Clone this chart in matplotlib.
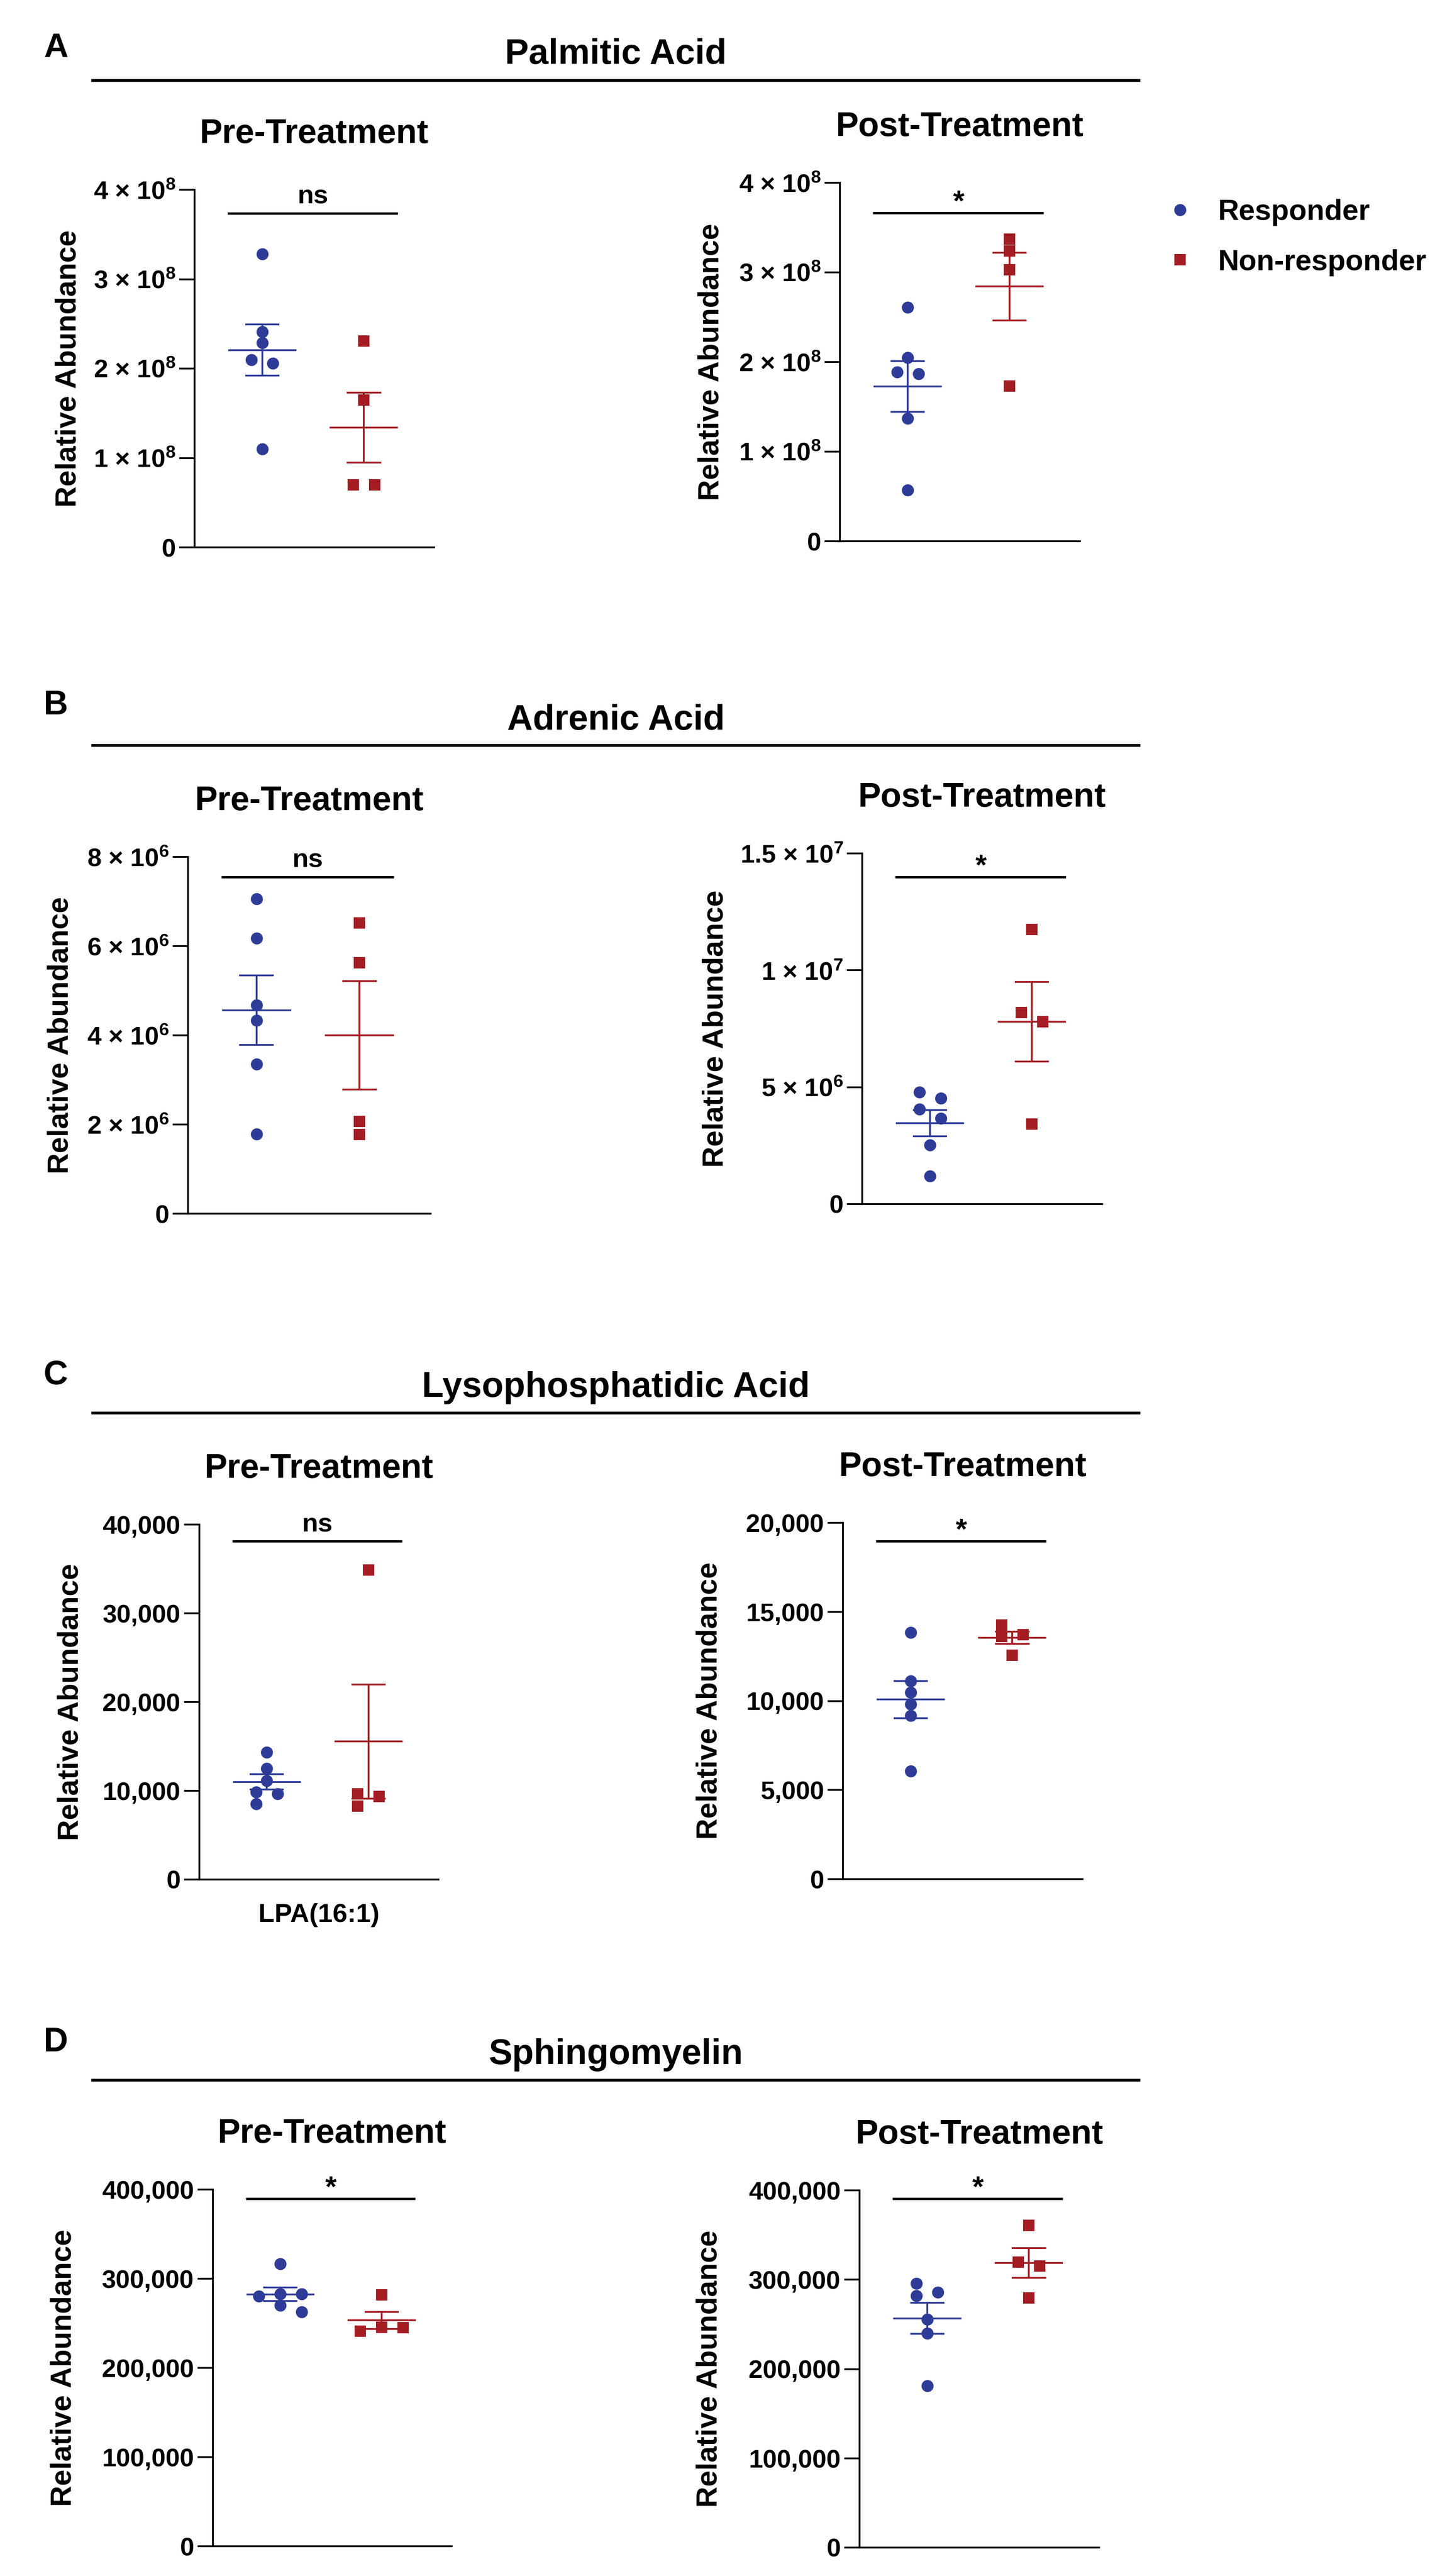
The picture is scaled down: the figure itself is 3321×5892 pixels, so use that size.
import numpy as np
import matplotlib
matplotlib.use("Agg")
import matplotlib.pyplot as plt
from matplotlib.lines import Line2D
from matplotlib.transforms import blended_transform_factory

plt.rcParams['font.family'] = ['Liberation Sans', 'DejaVu Sans']
plt.rcParams['font.weight'] = 'bold'
plt.rcParams['mathtext.fontset'] = 'custom'
plt.rcParams['mathtext.rm'] = 'Liberation Sans:bold'
plt.rcParams['mathtext.bf'] = 'Liberation Sans:bold'
plt.rcParams['mathtext.default'] = 'rm'

# ------------------------------------------------------------------ data
compounds = ["Palmitic Acid", "Adrenic Acid", "Lysophosphatidic Acid", "Sphingomyelin"]
panel_letters = ["A", "B", "C", "D"]
timepoints = ["Pre-Treatment", "Post-Treatment"]
groups = ["Responder", "Non-responder"]

palmitic_pre_resp = [3.28e8, 2.41e8, 2.29e8, 2.10e8, 2.06e8, 1.10e8]
palmitic_pre_nonresp = [2.31e8, 1.65e8, 0.70e8, 0.70e8]
palmitic_post_resp = [2.61e8, 2.05e8, 1.89e8, 1.87e8, 1.37e8, 0.57e8]
palmitic_post_nonresp = [3.37e8, 3.24e8, 3.03e8, 1.73e8]

adrenic_pre_resp = [7.06e6, 6.18e6, 4.68e6, 4.33e6, 3.35e6, 1.78e6]
adrenic_pre_nonresp = [6.52e6, 5.63e6, 2.07e6, 1.77e6]
adrenic_post_resp = [4.78e6, 4.53e6, 4.05e6, 3.67e6, 2.53e6, 1.19e6]
adrenic_post_nonresp = [11.75e6, 8.20e6, 7.80e6, 3.43e6]

lpa_pre_resp = [14320, 12500, 11140, 9870, 9660, 8520]
lpa_pre_nonresp = [34870, 9660, 9360, 8300]
lpa_post_resp = [13850, 11110, 10480, 9820, 9170, 6060]
lpa_post_nonresp = [14250, 13730, 13620, 12570]

sm_pre_resp = [316600, 282600, 282600, 280500, 270000, 262900]
sm_pre_nonresp = [281800, 245700, 244900, 241000]
sm_post_resp = [295600, 286000, 281800, 255800, 239800, 181100]
sm_post_nonresp = [360600, 319500, 315300, 279700]

significance = [["ns", "*"], ["ns", "*"], ["ns", "*"], ["*", "*"]]

palmitic_ticks = [0, 1e8, 2e8, 3e8, 4e8]
palmitic_ticklabels = ["0", r"1 × 10$^{8}$", r"2 × 10$^{8}$", r"3 × 10$^{8}$", r"4 × 10$^{8}$"]
adrenic_pre_ticks = [0, 2e6, 4e6, 6e6, 8e6]
adrenic_pre_ticklabels = ["0", r"2 × 10$^{6}$", r"4 × 10$^{6}$", r"6 × 10$^{6}$", r"8 × 10$^{6}$"]
adrenic_post_ticks = [0, 5e6, 1e7, 1.5e7]
adrenic_post_ticklabels = ["0", r"5 × 10$^{6}$", r"1 × 10$^{7}$", r"1.5 × 10$^{7}$"]
lpa_pre_ticks = [0, 10000, 20000, 30000, 40000]
lpa_pre_ticklabels = ["0", "10,000", "20,000", "30,000", "40,000"]
lpa_post_ticks = [0, 5000, 10000, 15000, 20000]
lpa_post_ticklabels = ["0", "5,000", "10,000", "15,000", "20,000"]
sm_ticks = [0, 100000, 200000, 300000, 400000]
sm_ticklabels = ["0", "100,000", "200,000", "300,000", "400,000"]

lpa_category = "LPA(16:1)"
y_label = "Relative Abundance"

panel_data = [
    [(palmitic_pre_resp, palmitic_pre_nonresp), (palmitic_post_resp, palmitic_post_nonresp)],
    [(adrenic_pre_resp, adrenic_pre_nonresp), (adrenic_post_resp, adrenic_post_nonresp)],
    [(lpa_pre_resp, lpa_pre_nonresp), (lpa_post_resp, lpa_post_nonresp)],
    [(sm_pre_resp, sm_pre_nonresp), (sm_post_resp, sm_post_nonresp)],
]
panel_ticks = [
    [(palmitic_ticks, palmitic_ticklabels), (palmitic_ticks, palmitic_ticklabels)],
    [(adrenic_pre_ticks, adrenic_pre_ticklabels), (adrenic_post_ticks, adrenic_post_ticklabels)],
    [(lpa_pre_ticks, lpa_pre_ticklabels), (lpa_post_ticks, lpa_post_ticklabels)],
    [(sm_ticks, sm_ticklabels), (sm_ticks, sm_ticklabels)],
]

# ------------------------------------------------------------------ layout (pixels)
W, H, DPI = 3321, 5892, 300
axes_px = [  # left, top, right, bottom
    [(445, 434, 993, 1252), (1921, 418, 2470, 1238)],
    [(430, 1960, 985, 2776), (1972, 1952, 2521, 2754)],
    [(456, 3487, 1003, 4299), (1928, 3483, 2476, 4298)],
    [(487, 5008, 1033, 5824), (1966, 5010, 2514, 5827)],
]
ylabel_dist_px = [[297, 304], [300, 344], [303, 314], [351, 352]]
sigbar_frac = [[0.934, 0.916], [0.944, 0.933], [0.953, 0.948], [0.974, 0.977]]
header_line_y = [184, 1705, 3232, 4758]
header_title_base = [146, 1669, 3195, 4721]
letter_base = [130, 1634, 3166, 4692]
line_x = (212, 2605)

BLUE = "#2E3C98"
RED = "#A31D23"
colors = [BLUE, RED]
markers = ["o", "s"]
msizes = [6.6, 6.1]
XLIM = (-0.665, 1.69)
MEAN_HW = 0.335
CAP_HW = 0.168


def fx(px):
    return px / W


def fy(py):
    return 1 - py / H


def swarm_offsets(ax, values, step_px=49.0, row_px=24.0):
    vals = np.asarray(values, dtype=float)
    pts = ax.transData.transform(np.column_stack([np.zeros_like(vals), vals]))
    ys = pts[:, 1]
    px_per_x = ax.transData.transform([[1, 0]])[0, 0] - ax.transData.transform([[0, 0]])[0, 0]
    order = np.argsort(-vals, kind="stable")
    offs = np.zeros_like(vals)
    chains, cur = [], [order[0]]
    for a, b in zip(order[:-1], order[1:]):
        if ys[a] - ys[b] < row_px:
            cur.append(b)
        else:
            chains.append(cur)
            cur = [b]
    chains.append(cur)
    cands = [0, 1, -1, 2, -2, 3, -3]
    for chain in chains:
        placed = []
        for i in chain:
            for c in cands:
                o = c * step_px
                if all(not (abs(ys[i] - ys[j]) < row_px and abs(o - offs[j]) < step_px - 1e-6)
                       for j in placed):
                    break
            offs[i] = o
            placed.append(i)
        sub = offs[chain]
        offs[chain] = sub - (sub.max() + sub.min()) / 2
    return offs / px_per_x


fig = plt.figure(figsize=(W / DPI, H / DPI), dpi=DPI)

for r in range(4):
    # header
    fig.text(fx(100), fy(letter_base[r]), panel_letters[r], fontsize=18.5,
             fontweight="bold", ha="left", va="baseline")
    fig.text(fx((line_x[0] + line_x[1]) / 2), fy(header_title_base[r]), compounds[r],
             fontsize=19.5, fontweight="bold", ha="center", va="baseline")
    fig.add_artist(Line2D([fx(line_x[0]), fx(line_x[1])],
                          [fy(header_line_y[r]), fy(header_line_y[r])],
                          transform=fig.transFigure, color="black", lw=1.55))
    for c in range(2):
        L, T, R, B = axes_px[r][c]
        ax = fig.add_axes([fx(L), fy(B), (R - L) / W, (B - T) / H])
        ticks, tlabels = panel_ticks[r][c]
        ax.set_xlim(*XLIM)
        ax.set_ylim(0, ticks[-1])
        ax.set_yticks(ticks)
        ax.set_yticklabels(tlabels, fontsize=14, fontweight="bold")
        ax.set_xticks([])
        for s in ["top", "right"]:
            ax.spines[s].set_visible(False)
        for s in ["left", "bottom"]:
            ax.spines[s].set_linewidth(1.0)
        ax.tick_params(axis="y", length=8.4, width=1.0, pad=2)
        ax.set_ylabel(y_label, fontsize=16, fontweight="bold")
        ax.yaxis.set_label_coords(-(ylabel_dist_px[r][c] - 40) / (R - L), 0.5)

        # title
        ax.annotate(timepoints[c], xy=(0.5, 1.0), xycoords="axes fraction",
                    xytext=(0, 107 * 72 / DPI), textcoords="offset points",
                    ha="center", va="baseline", fontsize=18.7, fontweight="bold",
                    annotation_clip=False)

        # data
        for g in range(2):
            vals = panel_data[r][c][g]
            offs = swarm_offsets(ax, vals)
            ax.plot(g + offs, vals, linestyle="none", marker=markers[g],
                    markersize=msizes[g], color=colors[g], markeredgewidth=0,
                    zorder=3, clip_on=False)
            m = np.mean(vals)
            se = np.std(vals, ddof=1) / np.sqrt(len(vals))
            ax.hlines(m, g - MEAN_HW, g + MEAN_HW, color=colors[g], lw=1.0, zorder=4)
            ax.hlines([m - se, m + se], g - CAP_HW, g + CAP_HW, color=colors[g], lw=1.0, zorder=4)
            ax.vlines(g, m - se, m + se, color=colors[g], lw=1.0, zorder=4)

        # significance bar
        tr = blended_transform_factory(ax.transData, ax.transAxes)
        yb = sigbar_frac[r][c]
        ax.plot([-0.33, 1.32], [yb, yb], color="black", lw=1.3, transform=tr, clip_on=False)
        sig = significance[r][c]
        ax.annotate(sig, xy=(0.5, yb), xycoords=tr,
                    xytext=(0, (22 if sig == "ns" else 6) * 72 / DPI), textcoords="offset points",
                    ha="center", va="baseline", fontsize=14.5 if sig == "ns" else 16,
                    fontweight="bold", annotation_clip=False)

        if r == 2 and c == 0:
            ax.annotate(lpa_category, xy=(0.5, 0), xycoords="axes fraction",
                        xytext=(0, -82 * 72 / DPI), textcoords="offset points",
                        ha="center", va="center", fontsize=14.5, fontweight="bold",
                        annotation_clip=False)

# legend
handles = [Line2D([], [], linestyle="none", marker=markers[g], color=colors[g],
                  markersize=msizes[g], markeredgewidth=0) for g in range(2)]
fig.legend(handles, groups, loc="upper left", bbox_to_anchor=(fx(2666), fy(455)),
           frameon=False, prop={"weight": "bold", "size": 16},
           handlelength=1.0, handletextpad=0.8, labelspacing=0.79,
           borderpad=0, borderaxespad=0)

fig.savefig("out.png", dpi=DPI)
